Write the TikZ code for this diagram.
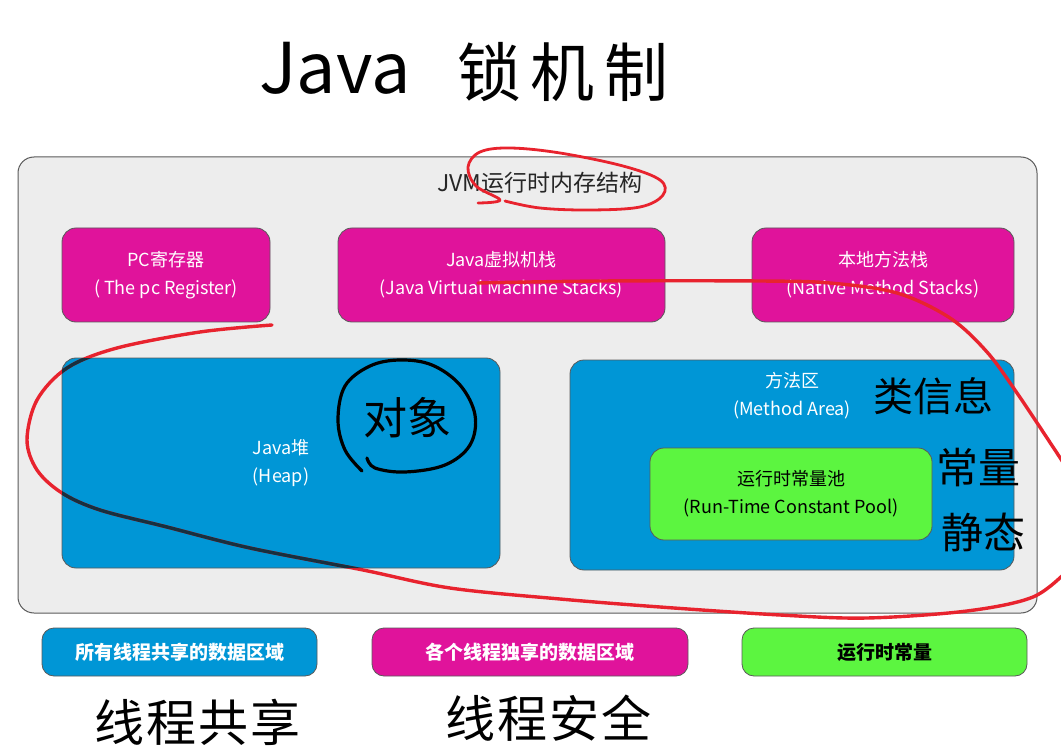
\documentclass[tikz,border=0pt]{standalone}
\usepackage{fontspec}
\setmainfont{Noto Sans CJK SC}
\definecolor{mag}{HTML}{E0139B}
\definecolor{blu}{HTML}{0096D6}
\definecolor{grn}{HTML}{5CF540}
\definecolor{outerfill}{HTML}{EDEDED}
\definecolor{edge}{HTML}{5A5A5A}
\definecolor{ink}{HTML}{E8232E}
\definecolor{inkdark}{HTML}{17303F}
\begin{document}
\begin{tikzpicture}[x=1pt,y=-1pt,
  box/.style={draw=edge,line width=0.8pt,rounded corners=14pt,inner sep=0pt,align=center,
    font=\fontsize{18}{28}\selectfont},
  magbox/.style={box,fill=mag,text=white},
  blubox/.style={box,fill=blu,text=white},
  grnbox/.style={box,fill=grn,text=black},
  legend/.style={draw=edge,line width=0.8pt,rounded corners=12pt,inner sep=0pt,
    minimum height=48pt,font=\fontsize{19}{22}\selectfont\bfseries},
  hand/.style={inner sep=0pt,text=black},
  redink/.style={draw=ink,line width=3.4pt,line cap=round,line join=round},
  blackink/.style={draw=black,line width=3.2pt,line cap=round,line join=round}]
\useasboundingbox (0,0) rectangle (1061,746);
\clip (0,0) rectangle (1061,746);
\fill[white] (0,0) rectangle (1061,746);

% title
\node[hand,font=\fontsize{70}{70}\selectfont] (titleA) at (335,68) {Java};
\node[hand,font=\fontsize{64}{64}\selectfont] (titleB) at (563,72) {锁\hspace{10pt}机\hspace{10pt}制};

% outer frame
\node[draw=edge,line width=1pt,fill=outerfill,rounded corners=16pt,minimum width=1019pt,minimum height=456pt,inner sep=0pt] (outer) at (527.5,385) {};
\node[font=\fontsize{23}{23}\selectfont,text=black!85] (jvm) at (540,183) {JVM运行时内存结构};

% top row
\node[magbox,minimum width=208pt,minimum height=94pt] (pc) at (166,275) {PC寄存器\\( The pc Register)};
\node[magbox,minimum width=327pt,minimum height=94pt] (jvms) at (501.5,275) {Java虚拟机栈\\(Java Virtual Machine Stacks)};
\node[magbox,minimum width=262pt,minimum height=94pt] (native) at (883,275) {本地方法栈\\(Native Method Stacks)};

% heap and method area
\node[blubox,minimum width=438pt,minimum height=210pt] (heap) at (281,463) {Java堆\\(Heap)};
\node[blubox,minimum width=444pt,minimum height=210pt] (method) at (792,465) {};
\node[font=\fontsize{18}{28}\selectfont,text=white,align=center] (methodlbl) at (792,396) {方法区\\(Method Area)};
\node[grnbox,minimum width=282pt,minimum height=92pt] (pool) at (791,494) {运行时常量池\\(Run-Time Constant Pool)};

% legend
\node[legend,fill=blu,text=white,minimum width=275pt] (lg1) at (179.5,652) {所有线程共享的数据区域};
\node[legend,fill=mag,text=white,minimum width=316pt] (lg2) at (530,652) {各个线程独享的数据区域};
\node[legend,fill=grn,text=black,minimum width=285pt] (lg3) at (884.5,652) {运行时常量};

% handwritten notes
\node[hand,font=\fontsize{50}{50}\selectfont] (share) at (197,722) {线\hspace{2pt}程\hspace{2pt}共\hspace{2pt}享};
\node[hand,font=\fontsize{50}{50}\selectfont] (safe) at (548,718) {线\hspace{2pt}程\hspace{2pt}安\hspace{2pt}全};
\node[hand,font=\fontsize{44}{44}\selectfont] (obj) at (407,418) {对象};
\node[hand,font=\fontsize{40}{40}\selectfont] (cls) at (933,396) {类信息};
\node[hand,font=\fontsize{42}{42}\selectfont] (const) at (978,468) {常量};
\node[hand,font=\fontsize{42}{42}\selectfont] (static) at (983,532) {静态};

% circle around 对象
\draw[blackink] plot[smooth,tension=0.6] coordinates {(362,471) (345,450) (338,420) (345,386) (370,366) (400,360) (432,365) (460,385) (475,415) (470,445) (445,465) (405,472) (375,468) (367,458)};

% red ellipse around title
\draw[redink,line width=2.8pt] plot[smooth,tension=0.6] coordinates {(478,203) (500,200) (476,186) (468,167) (480,152) (510,148) (560,153) (623,166) (660,180) (663,195) (640,207) (590,210) (540,208) (505,201)};

% big red loop
\def\loopA{(272,325) (200,332) (117,348) (67,368) (37,400) (27,440) (37,470) (62,493) (100,510) (167,527) (250,548) (363,570) (450,588) (560,599) (660,607) (780,615) (867,618) (967,611) (1033,597) (1068,570)}
\def\loopB{(478,283) (600,281) (760,281) (830,283) (897,293) (950,318) (987,352) (1017,393) (1053,447) (1068,470)}
\draw[redink] plot[smooth,tension=0.55] coordinates {\loopA};
\draw[redink] plot[smooth,tension=0.55] coordinates {\loopB};
\begin{scope}
  \clip[rounded corners=14pt] (62,358) rectangle (500,568);
  \draw[redink,draw=inkdark] plot[smooth,tension=0.55] coordinates {\loopA};
\end{scope}
\end{tikzpicture}
\end{document}
